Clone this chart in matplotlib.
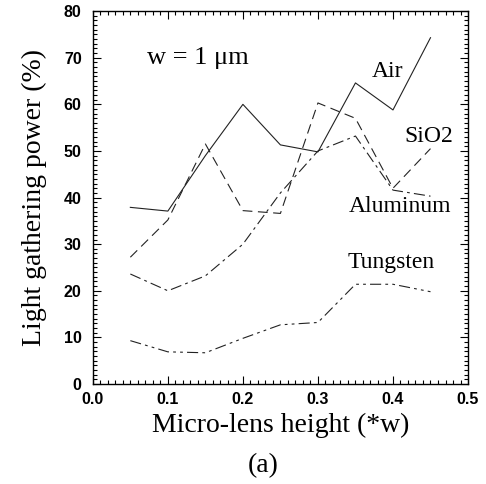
import numpy as np
import matplotlib
matplotlib.use("Agg")
import matplotlib.pyplot as plt
from matplotlib.ticker import MultipleLocator

# lens height in units of w, and light gathering power (%) per cladding material
height = [0.05, 0.10, 0.15, 0.20, 0.25, 0.30, 0.35, 0.40, 0.45]
air = [37.9, 37.1, 49.0, 60.0, 51.3, 49.8, 64.6, 58.8, 74.3]
sio2 = [27.2, 35.2, 51.5, 37.2, 36.6, 60.3, 57.0, 42.0, 50.5]
aluminum = [23.6, 20.0, 23.2, 30.0, 41.0, 50.0, 53.2, 41.6, 40.3]
tungsten = [9.3, 6.9, 6.7, 9.8, 12.7, 13.2, 21.4, 21.4, 19.8]

plt.rcParams["lines.scale_dashes"] = False
serif = ["Liberation Serif", "DejaVu Serif"]

fig = plt.figure(figsize=(4.86, 4.84), dpi=100)
ax = fig.add_axes([0.191, 0.2066, 0.772, 0.7704])

lc = "#222222"
lw = 0.8
ax.plot(height, air, color=lc, lw=lw, linestyle="-")
ax.plot(height, sio2, color=lc, lw=lw, linestyle=(0, (7, 4)))
ax.plot(height, aluminum, color=lc, lw=lw, linestyle=(0, (8, 3, 2, 3)))
ax.plot(height, tungsten, color=lc, lw=lw, linestyle=(0, (8, 3, 2, 3, 2, 3)))

ax.set_xlim(0, 0.5)
ax.set_ylim(0, 80)
ax.xaxis.set_major_locator(MultipleLocator(0.1))
ax.xaxis.set_minor_locator(MultipleLocator(0.01))
ax.yaxis.set_major_locator(MultipleLocator(10))
ax.yaxis.set_minor_locator(MultipleLocator(1))
ax.xaxis.set_major_formatter(matplotlib.ticker.FormatStrFormatter("%.1f"))
ax.tick_params(which="both", direction="in", top=True, right=True, width=0.8)
ax.tick_params(which="major", length=6)
ax.tick_params(which="minor", length=3)
ax.tick_params(axis="x", pad=6)
ax.tick_params(axis="y", pad=8)
for lab in ax.get_xticklabels() + ax.get_yticklabels():
    lab.set_family("Liberation Sans")
    lab.set_fontweight("bold")
    lab.set_fontsize(11.5)
for sp in ax.spines.values():
    sp.set_linewidth(1.0)

ax.set_xlabel("Micro-lens height (*w)", family=serif, fontsize=20, labelpad=4)
ax.set_ylabel("Light gathering power (%)", family=serif, fontsize=20, labelpad=12)

ax.text(0.072, 70, "w = 1 μm", family=serif, fontsize=19, va="center")
ax.text(0.372, 67.1, "Air", family=serif, fontsize=17, va="center")
ax.text(0.415, 53, "SiO2", family=serif, fontsize=17, va="center")
ax.text(0.341, 38, "Aluminum", family=serif, fontsize=17, va="center")
ax.text(0.34, 26, "Tungsten", family=serif, fontsize=17, va="center")

fig.text(263 / 486, 1 - 466 / 484, "(a)", family=serif, fontsize=20,
         ha="center", va="center")

fig.savefig("out.png", dpi=100)
